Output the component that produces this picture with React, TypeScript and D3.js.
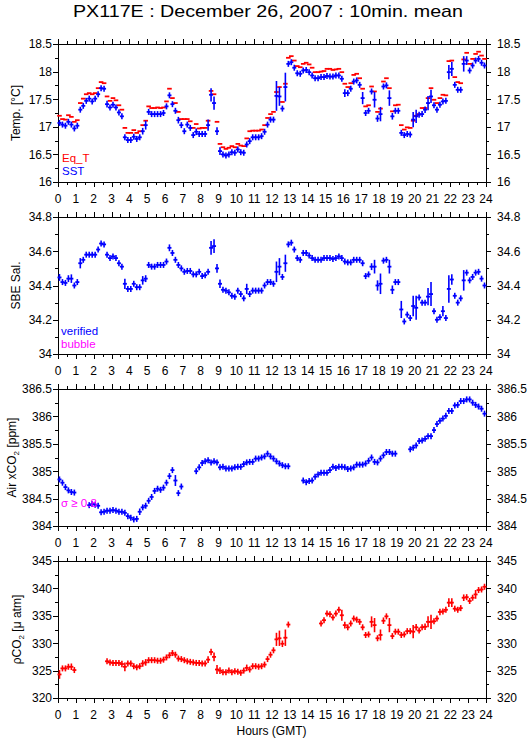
import React from "react";
import * as d3 from "d3";

// ---------- DATA (10-minute slots, 6 per hour, 144 per series) ----------
const hourTicks = d3.range(0, 25);

const sst = [
  17.07, 17.04, 17.02, 17.09, 17.04, 16.97,
  17.02, 17.31, 17.38, 17.47, 17.51, 17.46,
  17.51, 17.59, 17.70, 17.69, 17.41, 17.35,
  17.40, 17.35, 17.26, 17.19, 16.81, 16.76,
  16.76, 16.82, 16.78, 16.81, 16.92, 17.03,
  17.27, 17.23, 17.23, 17.23, 17.23, 17.25,
  17.37, 17.57, 17.41, 17.29, 17.12, 17.03,
  16.92, 17.04, 16.98, 16.85, 16.91, 16.87,
  16.87, 16.87, 17.03, 17.58, 17.43, 16.92,
  16.56, 16.50, 16.48, 16.50, 16.54, 16.53,
  16.59, 16.54, 16.53, 16.68, 16.74, 16.81,
  16.81, 16.81, 16.83, 16.91, 17.04, 17.13,
  17.13, 17.56, 17.55, 17.33, 17.72, 18.14,
  18.17, 18.07, 17.97, 17.96, 18.02, 18.03,
  17.99, 17.93, 17.88, 17.88, 17.90, 17.90,
  17.92, 17.91, 17.91, 17.93, 17.93, 17.87,
  17.61, 17.61, 17.69, 17.82, 17.84, 17.76,
  17.52, 17.25, 17.29, 17.64, 17.49, 17.15,
  17.23, 17.73, 17.75, 17.52, 17.19, 17.29,
  17.29, 16.89, 16.85, 16.87, 16.86, 17.13,
  17.19, 17.22, 17.23, 17.31, 17.43, 17.55,
  17.39, 17.31, 17.40, 17.46, 17.47, 17.99,
  18.05, 17.76, 17.67, 17.67, 18.14, 18.20,
  18.02, 18.11, 18.20, 18.23, 18.16, 18.11,
];
const sstSd = [
  .05, 0, 0, .05, .05, .03,
  .05, .05, 0, .04, 0, 0,
  0, .05, 0, 0, .06, 0,
  0, 0, 0, .05, .05, 0,
  0, 0, 0, 0, .06, .08,
  0, 0, 0, 0, 0, 0,
  0, .05, .05, 0, .06, 0,
  .05, 0, 0, .05, .06, 0,
  0, 0, .1, .12, .12, .07,
  .07, 0, 0, 0, 0, 0,
  0, 0, 0, .04, .05, 0,
  0, 0, 0, 0, 0, 0,
  0, .27, .17, 0, .26, 0,
  0, .04, 0, 0, 0, 0,
  0, 0, 0, 0, 0, 0,
  0, 0, 0, 0, 0, 0,
  .07, 0, .05, 0, 0, 0,
  .11, 0, 0, .05, .14, .06,
  .13, 0, 0, .14, .06, .05,
  .05, .05, 0, 0, 0, .14,
  .12, .05, .05, .06, .13, .12,
  .03, 0, .03, .05, 0, .13,
  .13, 0, 0, 0, .14, .08,
  .04, .05, 0, .05, 0, 0,
];
const eqT = [
  17.20, 17.14, 17.13, 17.21, 17.18, 17.09,
  17.12, 17.43, 17.51, 17.59, 17.61, 17.59,
  17.61, 17.70, 17.81, 17.79, 17.55, 17.47,
  17.52, 17.48, 17.39, 17.31, 16.98, 16.89,
  16.89, 16.94, 16.89, 16.92, 17.03, 17.11,
  17.37, 17.34, 17.34, 17.35, 17.34, 17.35,
  17.46, 17.69, 17.52, 17.43, 17.27, 17.14,
  17.14, 17.14, 17.10, 16.98, 17.05, 16.97,
  16.98, 16.98, 17.11, 17.65, 17.59, 17.09,
  16.69, 16.63, 16.60, 16.62, 16.65, 16.63,
  16.69, 16.66, 16.65, 16.79, 16.92, 16.93,
  16.93, 16.93, 16.95, 17.03, 17.16, 17.23,
  17.27, 17.63, 17.72, 17.45, 17.78, 18.25,
  18.28, 18.20, 18.10, 18.08, 18.14, 18.16,
  18.13, 18.07, 17.99, 17.99, 18.00, 18.01,
  18.05, 18.05, 18.03, 18.04, 18.05, 17.99,
  17.78, 17.72, 17.79, 17.94, 17.96, 17.88,
  17.69, 17.37, 17.39, 17.73, 17.64, 17.27,
  17.33, 17.82, 17.88, 17.70, 17.28, 17.39,
  17.40, 17.03, 16.95, 16.99, 16.98, 17.11,
  17.20, 17.23, 17.34, 17.34, 17.52, 17.70,
  17.49, 17.43, 17.52, 17.58, 17.57, 18.19,
  18.20, 17.90, 17.81, 17.79, 18.22, 18.34,
  18.14, 18.23, 18.32, 18.36, 18.29, 18.23,
];
const sal = [
  34.447, 34.42, 34.415, 34.44, 34.44, 34.40,
  34.42, 34.53, 34.55, 34.58, 34.58, 34.58,
  34.58, 34.61, 34.645, 34.64, 34.58, 34.56,
  34.57, 34.56, 34.53, 34.51, 34.41, 34.38,
  34.38, 34.41, 34.39, 34.39, 34.43, 34.44,
  34.52, 34.51, 34.51, 34.52, 34.52, 34.52,
  34.54, 34.62, 34.59, 34.55, 34.52, 34.50,
  34.48, 34.485, 34.485, 34.465, 34.465, 34.48,
  34.455, 34.46, 34.48, 34.62, 34.63, 34.50,
  34.41, 34.375, 34.37, 34.36, 34.34, 34.335,
  34.37, 34.35, 34.325, 34.38, 34.35, 34.37,
  34.37, 34.37, 34.37, 34.40, 34.42, 34.42,
  34.41, 34.48, 34.51, 34.45, 34.53, 34.64,
  34.65, 34.61, 34.56, 34.55, 34.59, 34.59,
  34.575, 34.56, 34.55, 34.55, 34.55, 34.56,
  34.56, 34.56, 34.555, 34.56, 34.57, 34.56,
  34.54, 34.535, 34.535, 34.55, 34.55, 34.55,
  34.53, 34.455, 34.465, 34.51, 34.51, 34.40,
  34.41, 34.545, 34.55, 34.51, 34.375, 34.42,
  34.42, 34.26, 34.19, 34.23, 34.21, 34.28,
  34.27, 34.33, 34.30, 34.30, 34.335, 34.35,
  34.25, 34.20, 34.215, 34.25, 34.21, 34.38,
  34.435, 34.34, 34.30, 34.325, 34.43, 34.475,
  34.43, 34.45, 34.475, 34.48, 34.44, 34.40,
];
const salSd = [
  .02, 0, 0, .02, .025, 0,
  0, .03, 0, 0, 0, 0,
  0, 0, 0, 0, .015, 0,
  0, 0, 0, .015, .03, 0,
  0, .015, 0, 0, .025, .02,
  0, 0, 0, 0, 0, 0,
  0, .02, .015, 0, 0, 0,
  0, 0, 0, 0, 0, 0,
  0, 0, 0, .04, .04, .025,
  .025, 0, 0, 0, 0, 0,
  .015, 0, 0, .03, 0, 0,
  0, 0, 0, 0, 0, 0,
  0, .06, .05, .01, .05, 0,
  0, .015, 0, 0, .015, 0,
  0, 0, 0, 0, 0, 0,
  0, 0, 0, 0, 0, 0,
  .01, 0, 0, 0, 0, 0,
  .015, 0, 0, .02, .04, .03,
  .06, 0, 0, .04, .025, .015,
  .015, .05, 0, 0, 0, .06,
  .07, .015, 0, 0, .05, .07,
  .015, 0, 0, .03, 0, .08,
  .03, .015, 0, 0, .06, .015,
  0, .015, 0, .015, 0, 0,
];
const N = null;
const xco2 = [
  384.85, 384.79, 384.71, 384.65, 384.62, 384.61,
  N, N, N, N, 384.38, 384.40,
  384.39, 384.37, 384.25, 384.26, 384.28, 384.28,
  384.29, 384.28, 384.26, 384.26, 384.24, 384.18,
  384.15, 384.12, 384.13, 384.26, 384.34, 384.37,
  384.46, 384.53, 384.64, 384.68, 384.66, 384.70,
  384.79, 384.91, 385.02, 384.83, 384.60, 384.72,
  N, N, N, N, 385.00, 385.07,
  385.15, 385.18, 385.20, 385.16, 385.18, 385.16,
  385.07, 385.08, 385.05, 385.05, 385.05, 385.07,
  385.08, 385.08, 385.13, 385.16, 385.17, 385.17,
  385.23, 385.23, 385.25, 385.27, 385.32, 385.27,
  385.23, 385.18, 385.14, 385.11, 385.09, 385.09,
  N, N, N, N, 384.83, 384.80,
  384.82, 384.83, 384.90, 384.94, 384.97, 384.97,
  384.97, 385.02, 385.08, 385.06, 385.08, 385.08,
  385.07, 385.04, 385.05, 385.07, 385.12, 385.12,
  385.12, 385.14, 385.19, 385.25, 385.17, 385.16,
  385.23, 385.29, 385.35, 385.35, 385.32, 385.32,
  N, N, N, N, 385.40, 385.43,
  385.47, 385.55, 385.56, 385.59, 385.64, 385.64,
  385.75, 385.86, 385.92, 385.96, 386.01, 386.10,
  386.10, 386.20, 386.21, 386.28, 386.28, 386.31,
  386.31, 386.25, 386.21, 386.18, 386.14, 386.05,
];
const xco2Sd = [
  0, 0, 0, 0, 0, 0,
  0, 0, 0, 0, 0, 0,
  0, 0, 0, 0, 0, 0,
  0, 0, 0, 0, 0, 0,
  0, 0, 0, .06, 0, 0,
  0, .05, 0, .04, 0, 0,
  0, .04, .04, .1, .03, .02,
  0, 0, 0, 0, 0, 0,
  0, 0, 0, 0, 0, 0,
  0, .02, 0, 0, 0, 0,
  0, 0, 0, 0, 0, 0,
  0, 0, 0, 0, 0, 0,
  0, 0, 0, 0, 0, 0,
  0, 0, 0, 0, .02, 0,
  0, 0, 0, 0, 0, 0,
  0, 0, 0, 0, 0, 0,
  0, 0, 0, 0, 0, 0,
  0, 0, 0, 0, 0, 0,
  0, 0, 0, 0, 0, 0,
  0, 0, 0, 0, 0, 0,
  0, 0, 0, 0, 0, 0,
  0, 0, 0, 0, 0, 0,
  0, 0, 0, 0, 0, 0,
  0, 0, 0, 0, 0, 0,
];
const pco2 = [
  324.3, 325.4, 325.4, 325.7, 325.7, 325.1,
  N, N, N, N, N, N,
  N, N, N, N, 326.7, 326.5,
  326.4, 326.4, 326.4, 326.2, 325.7, 326.3,
  326.3, 325.8, 325.6, 325.8, 326.3, 326.5,
  326.9, 326.9, 326.9, 326.8, 326.8, 327.0,
  327.4, 327.8, 328.2, 327.9, 327.2, 327.1,
  326.9, 326.7, 326.6, 326.5, 326.4, 326.4,
  326.3, 326.3, 327.0, 328.4, 327.5, 325.2,
  325.0, 324.7, 324.7, 325.0, 324.7, 324.9,
  324.8, 324.6, 325.0, 325.5, 325.2, 325.8,
  325.8, 325.7, 325.8, 326.1, 327.1, 327.9,
  328.7, 330.7, 330.9, 329.9, 331.0, 333.4,
  N, N, N, N, N, N,
  N, N, N, N, 333.6, 334.2,
  335.4, 335.3, 334.7, 335.4, 336.1, 335.1,
  333.3, 332.9, 333.6, 334.5, 334.3, 333.9,
  332.9, 331.5, 331.6, 333.9, 333.3, 330.9,
  331.5, 334.1, 334.9, 333.3, 331.3, 332.1,
  332.1, 331.5, 331.6, 332.2, 332.2, 332.1,
  332.9, 332.3, 332.9, 333.0, 333.9, 333.9,
  334.0, 334.5, 335.7, 335.8, 336.1, 337.4,
  337.4, 336.3, 336.1, 336.4, 338.3, 338.4,
  337.7, 338.3, 338.9, 339.7, 339.8, 340.3,
];
const pco2Sd = [
  .8, 0, 0, 0, .6, 0,
  0, 0, 0, 0, 0, 0,
  0, 0, 0, 0, 0, 0,
  0, 0, 0, .6, .8, 0,
  0, 0, 0, 0, .6, .6,
  0, 0, 0, 0, 0, 0,
  0, 0, 0, 0, 0, 0,
  0, 0, 0, 0, 0, 0,
  0, 0, .6, .6, .8, .8,
  .6, 0, 0, 0, 0, 0,
  0, 0, 0, .6, 0, 0,
  0, 0, 0, 0, 0, .4,
  0, 1.2, 1.4, .6, 1.5, .5,
  0, 0, 0, 0, 0, 0,
  0, 0, 0, 0, 0, .3,
  0, .4, 0, 0, 0, 1.0,
  .6, .4, .4, 0, 0, 0,
  0, .5, .5, 1.0, 1.3, .5,
  1.0, .6, 0, 1.3, .5, 0,
  0, 0, 0, 0, 0, 1.2,
  .6, 0, 0, .6, 1.0, 1.3,
  .3, .4, .6, .3, .3, .8,
  .8, 0, 0, 0, .6, .4,
  .4, .4, .8, .5, 0, 0,
];

// ---------- LAYOUT ----------
const W = 529;
const H = 739;
const X0 = 58;
const X1 = 486;
const FONT = "'Liberation Sans', Arial, Helvetica, sans-serif";
const BLUE = "#0000ff";
const RED = "#ff0000";
const MAGENTA = "#ff00ff";

const x = d3.scaleLinear().domain([0, 24]).range([X0, X1]);

type PanelDef = {
  top: number;
  bottom: number;
  domain: [number, number];
  major: number;
  minor: number;
};

const panels: PanelDef[] = [
  { top: 44, bottom: 182, domain: [16, 18.5], major: 0.5, minor: 0.25 },
  { top: 217, bottom: 354, domain: [34, 34.8], major: 0.2, minor: 0.1 },
  { top: 389, bottom: 526, domain: [384, 386.5], major: 0.5, minor: 0.25 },
  { top: 561, bottom: 698, domain: [320, 345], major: 5, minor: 2.5 },
];

const fmt = (v: number) => d3.format("~g")(+v.toFixed(2));

function yScale(p: PanelDef) {
  return d3.scaleLinear().domain(p.domain).range([p.bottom, p.top]);
}

function Frame({ p }: { p: PanelDef }) {
  const y = yScale(p);
  const nMinor = Math.round((p.domain[1] - p.domain[0]) / p.minor);
  const yTicks = d3.range(0, nMinor + 1).map((k) => p.domain[0] + k * p.minor);
  const xTicks = d3.range(0, 49).map((k) => k / 2);
  const isMajorY = (v: number) => Math.abs(v / p.major - Math.round(v / p.major)) < 1e-6;
  return (
    <g>
      <rect x={X0} y={p.top} width={X1 - X0} height={p.bottom - p.top} fill="none" stroke="#000" strokeWidth={1} shapeRendering="crispEdges" />
      {xTicks.map((h) => {
        const len = Number.isInteger(h) ? 5 : 3;
        const xx = Math.round(x(h)) + 0.5;
        return (
          <g key={"xt" + h}>
            <line x1={xx} x2={xx} y1={p.top} y2={p.top - len} stroke="#000" />
            <line x1={xx} x2={xx} y1={p.bottom} y2={p.bottom + len} stroke="#000" />
          </g>
        );
      })}
      {yTicks.map((v) => {
        const maj = isMajorY(v);
        const len = maj ? 5 : 3;
        const yy = Math.round(y(v)) + 0.5;
        return (
          <g key={"yt" + v}>
            <line x1={X0} x2={X0 - len} y1={yy} y2={yy} stroke="#000" />
            <line x1={X1} x2={X1 + len} y1={yy} y2={yy} stroke="#000" />
            {maj && (
              <>
                <text x={52} y={y(v)} dy="0.36em" textAnchor="end" fontSize={12} fontFamily={FONT}>
                  {fmt(v)}
                </text>
                <text x={497} y={y(v)} dy="0.36em" textAnchor="start" fontSize={12} fontFamily={FONT}>
                  {fmt(v)}
                </text>
              </>
            )}
          </g>
        );
      })}
      {hourTicks.map((h) => (
        <text key={"xl" + h} x={x(h)} y={p.bottom + 21} textAnchor="middle" fontSize={12} fontFamily={FONT}>
          {h}
        </text>
      ))}
    </g>
  );
}

function Marks({
  p,
  values,
  sd,
  color,
  vertical = true,
  halfWidth = 2,
}: {
  p: PanelDef;
  values: (number | null)[];
  sd?: number[];
  color: string;
  vertical?: boolean;
  halfWidth?: number;
}) {
  const y = yScale(p);
  return (
    <g stroke={color}>
      {values.map((v, i) => {
        if (v == null) return null;
        const xc = x(i / 6 + 1 / 12);
        const yv = y(v);
        const s = sd ? sd[i] || 0 : 0;
        const y1 = Math.min(y(v + s), yv - 3);
        const y2 = Math.max(y(v - s), yv + 3);
        return (
          <g key={i}>
            <line x1={xc - halfWidth} x2={xc + halfWidth} y1={yv} y2={yv} strokeWidth={1.8} />
            {vertical && <line x1={xc} x2={xc} y1={y1} y2={y2} strokeWidth={1.6} />}
          </g>
        );
      })}
    </g>
  );
}

export default function App() {
  const [p1, p2, p3, p4] = panels;
  const mid = (p: PanelDef) => (p.top + p.bottom) / 2;
  return (
    <svg
      width={W}
      height={H}
      viewBox={`0 0 ${W} ${H}`}
      style={{ position: "absolute", left: 0, top: 0, background: "#fff" }}
      fontFamily={FONT}
    >
      <rect x={0} y={0} width={W} height={H} fill="#fff" />
      <text x={268} y={17} textAnchor="middle" fontSize={17} textLength={390} lengthAdjust="spacingAndGlyphs">
        PX117E : December 26, 2007 : 10min. mean
      </text>

      {panels.map((p, i) => (
        <Frame key={i} p={p} />
      ))}

      {/* Panel 1: temperatures */}
      <Marks p={p1} values={eqT} color={RED} vertical={false} halfWidth={2.3} />
      <Marks p={p1} values={sst} sd={sstSd} color={BLUE} />
      <text x={62} y={162} fontSize={11.5} fill={RED}>Eq_T</text>
      <text x={62} y={175} fontSize={11.5} fill={BLUE}>SST</text>
      <text transform={`translate(20,${mid(p1)}) rotate(-90)`} textAnchor="middle" fontSize={12}>
        Temp. [°C]
      </text>

      {/* Panel 2: salinity */}
      <Marks p={p2} values={sal} sd={salSd} color={BLUE} />
      <text x={61} y={335} fontSize={11.5} fill={BLUE}>verified</text>
      <text x={61} y={348} fontSize={11.5} fill={MAGENTA}>bubble</text>
      <text transform={`translate(20,${mid(p2)}) rotate(-90)`} textAnchor="middle" fontSize={12}>
        SBE Sal.
      </text>

      {/* Panel 3: air xCO2 */}
      <Marks p={p3} values={xco2} sd={xco2Sd} color={BLUE} />
      <text x={61} y={507} fontSize={11.5} fill={MAGENTA}>σ ≥ 0.8</text>
      <text transform={`translate(16,${mid(p3)}) rotate(-90)`} textAnchor="middle" fontSize={12}>
        Air xCO<tspan fontSize={8} dy={3}>2</tspan>
        <tspan dy={-3}> [ppm]</tspan>
      </text>

      {/* Panel 4: pCO2 */}
      <Marks p={p4} values={pco2} sd={pco2Sd} color={RED} />
      <text transform={`translate(21,${mid(p4)}) rotate(-90)`} textAnchor="middle" fontSize={12}>
        ρCO<tspan fontSize={8} dy={3}>2</tspan>
        <tspan dy={-3}> [μ atm]</tspan>
      </text>

      <text x={271.5} y={735} textAnchor="middle" fontSize={12}>
        Hours (GMT)
      </text>
    </svg>
  );
}
